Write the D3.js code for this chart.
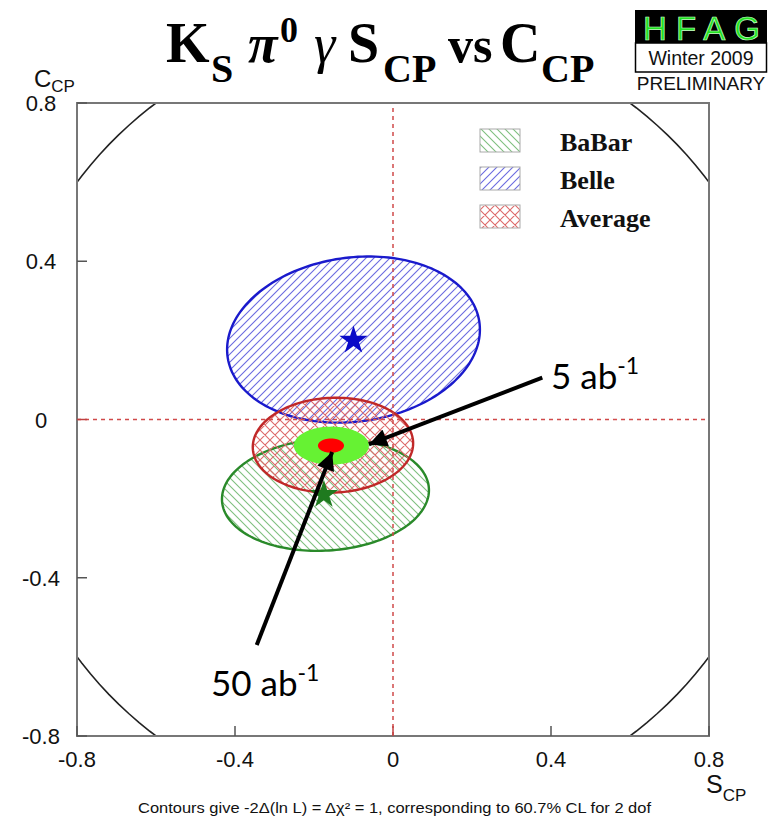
<!DOCTYPE html>
<html>
<head>
<meta charset="utf-8">
<script src="https://cdn.jsdelivr.net/npm/d3@7"></script>
<style>
html,body{margin:0;padding:0;background:#fff;}
svg{display:block;}
</style>
</head>
<body>
<svg id="chart" width="769" height="817"></svg>
<script>
// ---------- data ----------
const sTicks = [-0.8, -0.4, 0, 0.4, 0.8];
const cTicks = [-0.8, -0.4, 0, 0.4, 0.8];
const tickLabels = ["-0.8", "-0.4", "0", "0.4", "0.8"];

const experiments = ["Belle", "BaBar", "Average"];
const centerS = [-0.100, -0.171, -0.152];
const centerC = [0.202, -0.190, -0.065];
const sigmaS  = [0.320, 0.262, 0.203];
const sigmaC  = [0.210, 0.142, 0.120];
const rho     = [0.12, 0.08, 0.04];

const starNames = ["Belle", "BaBar"];
const starS = [-0.100, -0.175];
const starC = [0.200, -0.190];

const projLabels = ["5 ab", "50 ab"];
const projS = [-0.156, -0.157];
const projC = [-0.066, -0.066];
const projSigmaS = [0.095, 0.033];
const projSigmaC = [0.048, 0.018];

const arrowFromS = [0.378, -0.345];
const arrowFromC = [0.106, -0.570];
const arrowToS   = [-0.061, -0.154];
const arrowToC   = [-0.063, -0.082];

const legendNames = ["BaBar", "Belle", "Average"];

// ---------- setup ----------
const svg = d3.select("#chart");
const x = d3.scaleLinear().domain([-0.8, 0.8]).range([77, 709]);
const y = d3.scaleLinear().domain([-0.8, 0.8]).range([736, 103]);

const colors = {
  Belle:   {line: "#1a1acc", hatch: "#6a6ae0", pat: "hatchBelle"},
  BaBar:   {line: "#2a8a2a", hatch: "#7fbf7f", pat: "hatchBaBar"},
  Average: {line: "#c02828", hatch: "#dd6a6a", pat: "hatchAvg"}
};

const defs = svg.append("defs");
const pB = defs.append("pattern").attr("id", "hatchBelle").attr("patternUnits", "userSpaceOnUse")
  .attr("width", 8).attr("height", 8);
pB.append("path").attr("d", "M-2,2 L2,-2 M0,8 L8,0 M6,10 L10,6")
  .attr("stroke", colors.Belle.hatch).attr("stroke-width", 1.1);
const pG = defs.append("pattern").attr("id", "hatchBaBar").attr("patternUnits", "userSpaceOnUse")
  .attr("width", 8).attr("height", 8);
pG.append("path").attr("d", "M-2,6 L2,10 M0,0 L8,8 M6,-2 L10,2")
  .attr("stroke", colors.BaBar.hatch).attr("stroke-width", 1.1);
const pA = defs.append("pattern").attr("id", "hatchAvg").attr("patternUnits", "userSpaceOnUse")
  .attr("width", 10).attr("height", 10);
pA.append("path").attr("d", "M-2,2 L2,-2 M0,10 L10,0 M8,12 L12,8 M-2,8 L2,12 M0,0 L10,10 M8,-2 L12,2")
  .attr("stroke", colors.Average.hatch).attr("stroke-width", 1.1);

defs.append("clipPath").attr("id", "frameClip").append("rect")
  .attr("x", x(-0.8)).attr("y", y(0.8)).attr("width", x(0.8) - x(-0.8)).attr("height", y(-0.8) - y(0.8));

defs.append("marker").attr("id", "arrowHead").attr("viewBox", "0 0 10 10")
  .attr("refX", 10).attr("refY", 5).attr("markerWidth", 5.5).attr("markerHeight", 4.5)
  .attr("markerUnits", "strokeWidth").attr("orient", "auto")
  .append("path").attr("d", "M0,0 L10,5 L0,10 Z").attr("fill", "#000");

function ellipsePath(s0, c0, ss, sc, r) {
  const n = 180, pts = [];
  const q = Math.sqrt(1 - r * r);
  for (let i = 0; i <= n; i++) {
    const t = 2 * Math.PI * i / n;
    pts.push([x(s0 + ss * Math.cos(t)), y(c0 + sc * (r * Math.cos(t) + q * Math.sin(t)))]);
  }
  return d3.line()(pts) + "Z";
}

const plot = svg.append("g").attr("clip-path", "url(#frameClip)");

plot.append("path")
  .attr("d", ellipsePath(0, 0, 1, 1, 0))
  .attr("fill", "none").attr("stroke", "#222").attr("stroke-width", 1.6);

experiments.forEach((e, i) => {
  plot.append("path")
    .attr("d", ellipsePath(centerS[i], centerC[i], sigmaS[i], sigmaC[i], rho[i]))
    .attr("fill", "url(#" + colors[e].pat + ")")
    .attr("stroke", colors[e].line).attr("stroke-width", 2.4);
});

plot.append("line").attr("x1", x(0)).attr("x2", x(0)).attr("y1", y(-0.8)).attr("y2", y(0.8))
  .attr("stroke", "#d04a4a").attr("stroke-width", 1.5).attr("stroke-dasharray", "4,4");
plot.append("line").attr("x1", x(-0.8)).attr("x2", x(0.8)).attr("y1", y(0)).attr("y2", y(0))
  .attr("stroke", "#d04a4a").attr("stroke-width", 1.5).attr("stroke-dasharray", "4,4");

const starColors = {Belle: "#0a0ac8", BaBar: "#1f7a1f"};
starNames.forEach((n, i) => {
  plot.append("path")
    .attr("d", d3.symbol().type(d3.symbolStar).size(250)())
    .attr("transform", `translate(${x(starS[i])},${y(starC[i])})`)
    .attr("fill", starColors[n]);
});

const projColors = ["#66f233", "#ff0000"];
projLabels.forEach((l, i) => {
  plot.append("path")
    .attr("d", ellipsePath(projS[i], projC[i], projSigmaS[i], projSigmaC[i], 0))
    .attr("fill", projColors[i]).attr("stroke", "none");
});

svg.append("rect")
  .attr("x", x(-0.8)).attr("y", y(0.8)).attr("width", x(0.8) - x(-0.8)).attr("height", y(-0.8) - y(0.8))
  .attr("fill", "none").attr("stroke", "#777").attr("stroke-width", 2);

const tickG = svg.append("g");
cTicks.forEach(v => {
  tickG.append("line").attr("x1", x(-0.8)).attr("x2", x(-0.8) + 10).attr("y1", y(v)).attr("y2", y(v))
    .attr("stroke", v === 0 ? "#c04040" : "#555").attr("stroke-width", 1.5);
});
sTicks.forEach(v => {
  tickG.append("line").attr("x1", x(v)).attr("x2", x(v)).attr("y1", y(-0.8)).attr("y2", y(-0.8) - 10)
    .attr("stroke", v === 0 ? "#c04040" : "#555").attr("stroke-width", 1.5);
});

const font = "Liberation Sans, Arial, sans-serif";
cTicks.forEach((v, i) => {
  svg.append("text").attr("x", 41).attr("y", y(v) + 8).attr("text-anchor", "middle")
    .attr("font-family", font).attr("font-size", 22).attr("fill", "#111").text(tickLabels[i]);
});
sTicks.forEach((v, i) => {
  svg.append("text").attr("x", x(v)).attr("y", 767).attr("text-anchor", "middle")
    .attr("font-family", font).attr("font-size", 22).attr("fill", "#111").text(tickLabels[i]);
});

const cT = svg.append("text").attr("x", 34).attr("y", 87).attr("font-family", font).attr("font-size", 24).attr("fill", "#111");
cT.append("tspan").text("C");
cT.append("tspan").attr("font-size", 17).attr("dy", 5).text("CP");
const sT = svg.append("text").attr("x", 706).attr("y", 793).attr("font-family", font).attr("font-size", 25).attr("fill", "#111");
sT.append("tspan").text("S");
sT.append("tspan").attr("font-size", 17).attr("dy", 8).text("CP");

const serif = "Liberation Serif, Times New Roman, serif";
const title = svg.append("text").attr("font-family", serif).attr("font-weight", "bold").attr("fill", "#000");
title.append("tspan").attr("x", 166).attr("y", 62).attr("font-size", 56).text("K");
title.append("tspan").attr("x", 211).attr("y", 82).attr("font-size", 40).text("S");
title.append("tspan").attr("x", 248).attr("y", 62).attr("font-size", 54).attr("font-style", "italic").text("π");
title.append("tspan").attr("x", 280).attr("y", 42).attr("font-size", 36).text("0");
title.append("tspan").attr("x", 314).attr("y", 62).attr("font-size", 54).attr("font-style", "italic").attr("font-weight", "normal").text("γ");
title.append("tspan").attr("x", 348).attr("y", 62).attr("font-size", 56).text("S");
title.append("tspan").attr("x", 383).attr("y", 82).attr("font-size", 40).text("CP");
title.append("tspan").attr("x", 448).attr("y", 62).attr("font-size", 50).text("vs");
title.append("tspan").attr("x", 500).attr("y", 62).attr("font-size", 56).text("C");
title.append("tspan").attr("x", 541).attr("y", 82).attr("font-size", 40).text("CP");

// HFAG logo
svg.append("rect").attr("x", 635).attr("y", 10).attr("width", 132).attr("height", 33).attr("fill", "#000");
svg.append("text").attr("x", 643).attr("y", 40).attr("font-family", font).attr("font-size", 33)
  .attr("textLength", 117).attr("lengthAdjust", "spacing")
  .attr("fill", "#22e022").attr("stroke", "#c8ffc8").attr("stroke-width", 0.7).text("HFAG");
svg.append("rect").attr("x", 635.5).attr("y", 43).attr("width", 131).attr("height", 29)
  .attr("fill", "#fff").attr("stroke", "#000").attr("stroke-width", 1.5);
svg.append("text").attr("x", 701).attr("y", 65).attr("text-anchor", "middle").attr("font-family", font)
  .attr("font-size", 19.5).attr("fill", "#111").text("Winter 2009");
svg.append("text").attr("x", 701).attr("y", 90).attr("text-anchor", "middle").attr("font-family", font)
  .attr("font-size", 19).attr("fill", "#111").text("PRELIMINARY");

const legPat = {BaBar: "hatchBaBar", Belle: "hatchBelle", Average: "hatchAvg"};
legendNames.forEach((n, i) => {
  const yy = 129 + i * 38;
  svg.append("rect").attr("x", 480).attr("y", yy).attr("width", 40).attr("height", 23)
    .attr("fill", "url(#" + legPat[n] + ")").attr("stroke", "#aaa").attr("stroke-width", 1);
  svg.append("text").attr("x", 560).attr("y", yy + 22).attr("font-family", serif).attr("font-weight", "bold")
    .attr("font-size", 26).attr("fill", "#111").text(n);
});

projLabels.forEach((l, i) => {
  svg.append("line")
    .attr("x1", x(arrowFromS[i])).attr("y1", y(arrowFromC[i]))
    .attr("x2", x(arrowToS[i])).attr("y2", y(arrowToC[i]))
    .attr("stroke", "#000").attr("stroke-width", 4).attr("marker-end", "url(#arrowHead)");
});

const annFont = "Lato, Carlito, Calibri, sans-serif";
const labelX = [551, 211];
const labelY = [389, 696];
projLabels.forEach((l, i) => {
  const t = svg.append("text").attr("x", labelX[i]).attr("y", labelY[i]).attr("font-family", annFont)
    .attr("font-size", 35).attr("fill", "#000");
  t.append("tspan").text(l);
  t.append("tspan").attr("font-size", 23).attr("dy", -15).text("-1");
});

svg.append("text").attr("x", 138).attr("y", 813).attr("font-family", font).attr("font-size", 14)
  .attr("textLength", 513).attr("lengthAdjust", "spacingAndGlyphs").attr("fill", "#111")
  .text("Contours give -2Δ(ln L) = Δχ² = 1, corresponding to 60.7% CL for 2 dof");
</script>
</body>
</html>
